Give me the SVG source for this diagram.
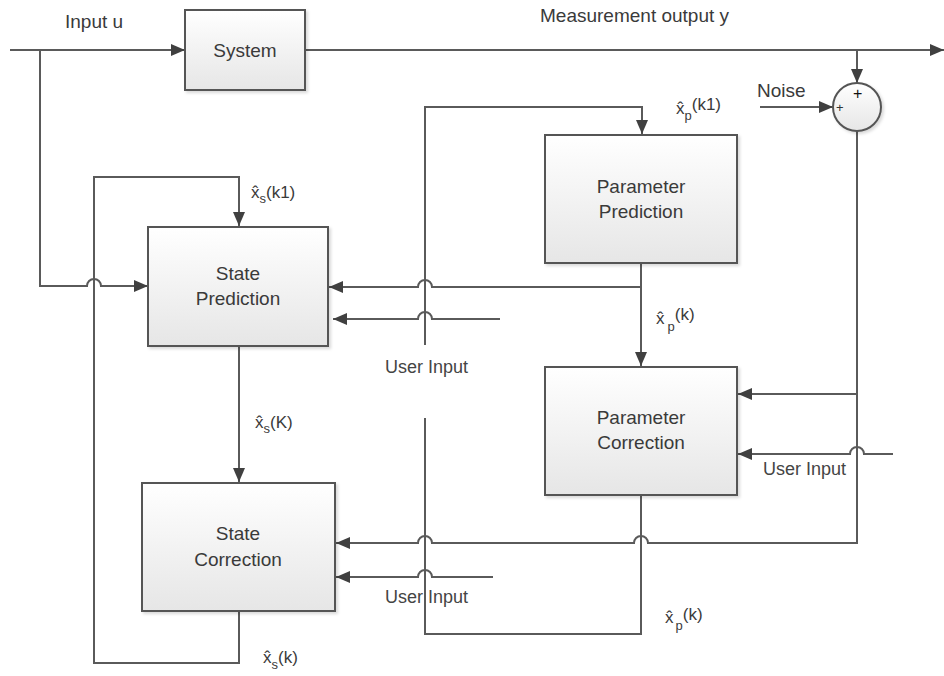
<svg xmlns="http://www.w3.org/2000/svg" width="944" height="676" viewBox="0 0 944 676">
<defs>
<linearGradient id="boxg" x1="0" y1="0" x2="0" y2="1">
<stop offset="0" stop-color="#ffffff"/>
<stop offset="1" stop-color="#e6e6e6"/>
</linearGradient>
<marker id="arr" markerUnits="userSpaceOnUse" markerWidth="16" markerHeight="14" refX="14" refY="6" orient="auto">
<path d="M0,0 L14,6 L0,12 z" fill="#404040"/>
</marker>
<filter id="sh" x="-10%" y="-10%" width="130%" height="130%">
<feDropShadow dx="2" dy="2" stdDeviation="1.5" flood-color="#000" flood-opacity="0.15"/>
</filter>
</defs>
<style>
.box{fill:url(#boxg);stroke:#555;stroke-width:2;filter:url(#sh)}
.ln{fill:none;stroke:#5a5a5a;stroke-width:2}
.ar{marker-end:url(#arr)}
text{font-family:"Liberation Sans",Arial,sans-serif;fill:#3a3a3a;font-size:19px}
.c{text-anchor:middle}
.lb{font-size:17px}
.sub{font-size:13px}
.ui{font-size:18px;fill:#444}
</style>
<rect width="944" height="676" fill="#ffffff"/>

<g id="connectors">
<path class="ln ar" d="M10,50 H185"/>
<path class="ln ar" d="M40,50 V286 H87 A7,7 0 0 1 101,286 H148"/>
<path class="ln ar" d="M305,50 H944"/>
<path class="ln ar" d="M857,50 V83"/>
<path class="ln ar" d="M760,107 H833"/>
<path class="ln ar" d="M857,131 V543 H648 A7,7 0 0 0 634,543 H432 A7,7 0 0 0 418,543 H336"/>
<path class="ln ar" d="M857,394 H738"/>
<path class="ln ar" d="M893,454 H864 A7,7 0 0 0 850,454 H738"/>
<path class="ln ar" d="M641,263 V366"/>
<path class="ln ar" d="M641,287 H432 A7,7 0 0 0 418,287 H329"/>
<path class="ln ar" d="M500,319 H432 A7,7 0 0 0 418,319 H333"/>
<path class="ln ar" d="M493,577 H432 A7,7 0 0 0 418,577 H336"/>
<path class="ln" d="M641,495 V634 H425 V418"/>
<path class="ln ar" d="M425,345 V107 H642 V134"/>
<path class="ln ar" d="M239,346 V482"/>
<path class="ln ar" d="M239,611 V663 H94 V177 H239 V226"/>
</g>

<g id="system">
<rect class="box" x="185" y="10" width="120" height="80"/>
<text class="c" x="245" y="57">System</text>
</g>
<g id="sum">
<circle cx="857" cy="107" r="24" fill="url(#boxg)" stroke="#555" stroke-width="2" filter="url(#sh)"/>
<text x="853" y="99" style="font-size:16px;fill:#111">+</text>
<text x="836" y="112" style="font-size:13px;fill:#333">+</text>
</g>
<g id="parameter-prediction">
<rect class="box" x="545" y="135" width="192" height="128"/>
<text class="c" x="641" y="193">Parameter</text>
<text class="c" x="641" y="218">Prediction</text>
</g>
<g id="state-prediction">
<rect class="box" x="148" y="227" width="180" height="119"/>
<text class="c" x="238" y="280">State</text>
<text class="c" x="238" y="305">Prediction</text>
</g>
<g id="parameter-correction">
<rect class="box" x="545" y="367" width="192" height="128"/>
<text class="c" x="641" y="424">Parameter</text>
<text class="c" x="641" y="449">Correction</text>
</g>
<g id="state-correction">
<rect class="box" x="142" y="483" width="193" height="128"/>
<text class="c" x="238" y="540">State</text>
<text class="c" x="238" y="566">Correction</text>
</g>

<g id="labels">
<text x="65" y="28">Input u</text>
<text x="540" y="22">Measurement output y</text>
<text x="757" y="97">Noise</text>
<text class="ui" x="385" y="373">User Input</text>
<text class="ui" x="763" y="475">User Input</text>
<text class="ui" x="385" y="603">User Input</text>

<text class="lb" x="251" y="198">x&#x302;<tspan class="sub" dy="5">s</tspan><tspan dy="-5">(k1)</tspan></text>
<text class="lb" x="676" y="114">x&#x302;<tspan class="sub" dy="6">p</tspan><tspan dy="-10">(k1)</tspan></text>
<text class="lb" x="656" y="324">x&#x302;<tspan class="sub" dx="3" dy="7">p</tspan><tspan dy="-11">(k)</tspan></text>
<text class="lb" x="255" y="428">x&#x302;<tspan class="sub" dy="5">s</tspan><tspan dy="-5">(K)</tspan></text>
<text class="lb" x="665" y="623">x&#x302;<tspan class="sub" dx="2" dy="7">p</tspan><tspan dy="-10">(k)</tspan></text>
<text class="lb" x="263" y="663">x&#x302;<tspan class="sub" dy="6">s</tspan><tspan dy="-6">(k)</tspan></text>
</g>
</svg>
